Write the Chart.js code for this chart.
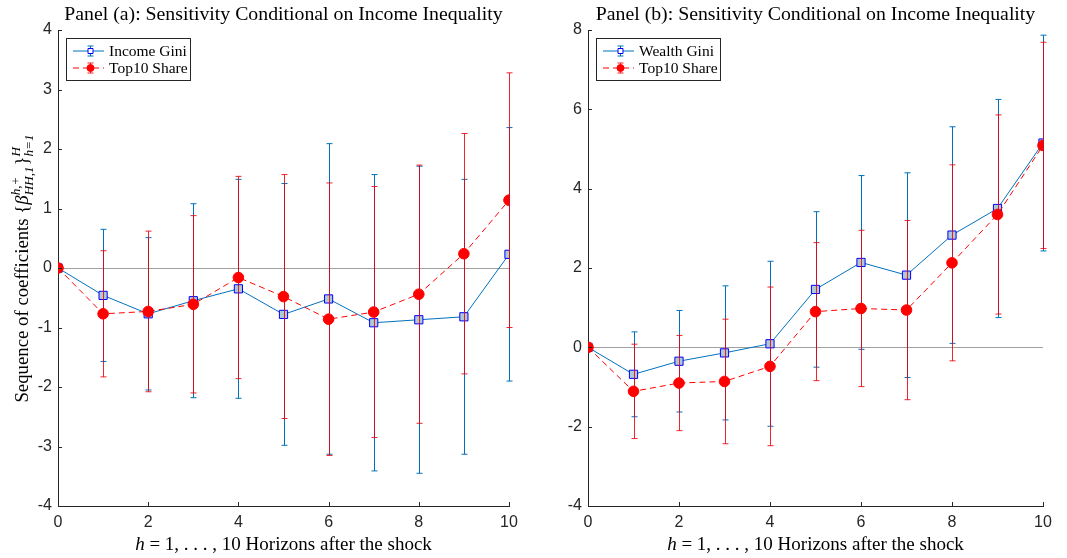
<!DOCTYPE html>
<html>
<head>
<meta charset="utf-8">
<script src="https://cdn.jsdelivr.net/npm/chart.js@4.4.1/dist/chart.umd.min.js"></script>
<style>
  body { margin: 0; background: #fff; }
  .panel { position: absolute; top: 0; height: 558px; }
</style>
</head>
<body>
<div class="panel" style="left:0;width:530px"><canvas id="chartA" width="530" height="558"></canvas></div>
<div class="panel" style="left:530px;width:537px"><canvas id="chartB" width="537" height="558"></canvas></div>
<script>
// horizons and point estimates with +/- error half-widths
const horizons = [0, 1, 2, 3, 4, 5, 6, 7, 8, 9, 10];

const incomeGini    = [0, -0.46, -0.77, -0.55, -0.35, -0.78, -0.52, -0.92, -0.87, -0.82, 0.23];
const incomeGiniErr = [0, 1.11, 1.28, 1.63, 1.84, 2.20, 2.61, 2.49, 2.58, 2.31, 2.13];
const top10A        = [0, -0.77, -0.73, -0.61, -0.16, -0.48, -0.86, -0.74, -0.44, 0.24, 1.14];
const top10AErr     = [0, 1.06, 1.35, 1.49, 1.70, 2.05, 2.29, 2.11, 2.17, 2.02, 2.14];

const wealthGini    = [0, -0.68, -0.35, -0.14, 0.09, 1.46, 2.14, 1.82, 2.83, 3.50, 5.15];
const wealthGiniErr = [0, 1.07, 1.28, 1.69, 2.08, 1.96, 2.19, 2.58, 2.73, 2.75, 2.72];
const top10B        = [0, -1.11, -0.90, -0.86, -0.48, 0.90, 0.98, 0.94, 2.13, 3.35, 5.09];
const top10BErr     = [0, 1.19, 1.20, 1.57, 2.00, 1.74, 1.97, 2.26, 2.47, 2.51, 2.60];

const SERIF = '"Liberation Serif", "DejaVu Serif", serif';
const SANS = '"Liberation Sans", Arial, sans-serif';
const BLUE = '#0072BD';
const RED = '#FF0000';

// draws a run of text pieces; scripts = stacked super/subscript
function mathWidth(ctx, parts, size) {
  let w = 0;
  parts.forEach((p) => {
    if (p.t !== undefined) {
      ctx.font = `${p.it ? 'italic ' : ''}${size}px ${SERIF}`;
      w += ctx.measureText(p.t).width;
    } else {
      ctx.font = `italic ${size * 0.7}px ${SERIF}`;
      w += Math.max(ctx.measureText(p.sup || '').width, ctx.measureText(p.sub || '').width) + 1;
    }
  });
  return w;
}

function drawMath(ctx, parts, cx, y, size) {
  let x = cx - mathWidth(ctx, parts, size) / 2;
  ctx.textAlign = 'left';
  ctx.textBaseline = 'alphabetic';
  parts.forEach((p) => {
    if (p.t !== undefined) {
      ctx.font = `${p.it ? 'italic ' : ''}${size}px ${SERIF}`;
      ctx.fillText(p.t, x, y);
      x += ctx.measureText(p.t).width;
    } else {
      ctx.font = `italic ${size * 0.7}px ${SERIF}`;
      if (p.sup) ctx.fillText(p.sup, x, y - size * 0.42);
      if (p.sub) ctx.fillText(p.sub, x, y + size * 0.28);
      x += Math.max(ctx.measureText(p.sup || '').width, ctx.measureText(p.sub || '').width) + 1;
    }
  });
}

function drawMarker(ctx, style, x, y, r) {
  ctx.beginPath();
  if (style === 'rect') ctx.rect(x - r, y - r, 2 * r, 2 * r);
  else ctx.arc(x, y, r, 0, Math.PI * 2);
}

const panelPlugin = {
  id: 'panel',
  beforeDatasetsDraw(chart) {
    const { ctx, chartArea: a, scales: { y } } = chart;
    const y0 = Math.round(y.getPixelForValue(0)) + 0.5;
    ctx.save();
    ctx.strokeStyle = '#a0a0a0';
    ctx.lineWidth = 1.2;
    ctx.beginPath();
    ctx.moveTo(a.left, y0);
    ctx.lineTo(a.right, y0);
    ctx.stroke();
    ctx.restore();
  },
  beforeDatasetDraw(chart, args) {
    const ds = chart.data.datasets[args.index];
    const { ctx, scales: { x, y } } = chart;
    ctx.save();
    ctx.strokeStyle = ds.barColor;
    ctx.lineWidth = 1;
    ds.data.forEach((p, i) => {
      const e = ds.errors[i];
      if (!e) return;
      const px = Math.round(x.getPixelForValue(p.x)) + 0.5;
      const top = y.getPixelForValue(p.y + e);
      const bot = y.getPixelForValue(p.y - e);
      ctx.beginPath();
      ctx.moveTo(px, top); ctx.lineTo(px, bot);
      ctx.moveTo(px - 3, top); ctx.lineTo(px + 3, top);
      ctx.moveTo(px - 3, bot); ctx.lineTo(px + 3, bot);
      ctx.stroke();
    });
    ctx.restore();
  },
  afterDraw(chart, args, opts) {
    const { ctx, chartArea: a, scales: { x, y } } = chart;
    const cx = (a.left + a.right) / 2;
    ctx.save();
    // inward tick marks
    ctx.strokeStyle = '#262626';
    ctx.lineWidth = 1;
    ctx.beginPath();
    x.ticks.forEach((t) => {
      const px = Math.round(x.getPixelForValue(t.value)) + 0.5;
      ctx.moveTo(px, a.bottom); ctx.lineTo(px, a.bottom - 4);
    });
    y.ticks.forEach((t) => {
      const py = Math.round(y.getPixelForValue(t.value)) + 0.5;
      ctx.moveTo(a.left, py); ctx.lineTo(a.left + 4, py);
    });
    ctx.stroke();

    // title
    ctx.fillStyle = '#000';
    ctx.font = `19.8px ${SERIF}`;
    ctx.textAlign = 'center';
    ctx.textBaseline = 'alphabetic';
    ctx.fillText(opts.title, cx, 20);

    // x axis label
    drawMath(ctx, [{ t: 'h', it: true }, { t: ' = 1, . . . , 10 Horizons after the shock' }], cx, 550, 19);

    // y axis label
    if (opts.yLabel) {
      ctx.save();
      ctx.translate(28, (a.top + a.bottom) / 2);
      ctx.rotate(-Math.PI / 2);
      drawMath(ctx, [
        { t: 'Sequence of coefficients {' },
        { t: 'β', it: true },
        { sup: 'h,+', sub: 'HH,1' },
        { t: '}' },
        { sup: 'H', sub: 'h=1' }
      ], 0, 0, 18.8);
      ctx.restore();
    }

    // legend box
    const lx = a.left + 8, ly = a.top + 8, lw = 124, lh = 42;
    ctx.fillStyle = '#fff';
    ctx.fillRect(lx, ly, lw, lh);
    ctx.strokeStyle = '#262626';
    ctx.lineWidth = 1;
    ctx.strokeRect(lx + 0.5, ly + 0.5, lw, lh);
    chart.data.datasets.forEach((ds, i) => {
      const ry = ly + 13 + i * 17;
      const mx = lx + 24;
      ctx.strokeStyle = ds.borderColor;
      ctx.setLineDash(ds.borderDash || []);
      ctx.beginPath();
      ctx.moveTo(lx + 7, ry); ctx.lineTo(lx + 38, ry);
      ctx.stroke();
      ctx.setLineDash([]);
      ctx.strokeStyle = ds.barColor;
      ctx.beginPath();
      ctx.moveTo(mx + 0.5, ry - 5); ctx.lineTo(mx + 0.5, ry + 5);
      ctx.moveTo(mx - 2.5, ry - 5); ctx.lineTo(mx + 3.5, ry - 5);
      ctx.moveTo(mx - 2.5, ry + 5); ctx.lineTo(mx + 3.5, ry + 5);
      ctx.stroke();
      drawMarker(ctx, ds.pointStyle, mx + 0.5, ry, ds.pointStyle === 'rect' ? 2.5 : 3.5);
      ctx.fillStyle = ds.pointStyle === 'rect' ? '#fff' : RED;
      ctx.fill();
      ctx.strokeStyle = ds.pointBorderColor;
      ctx.stroke();
      ctx.fillStyle = '#000';
      ctx.font = `15.5px ${SERIF}`;
      ctx.textAlign = 'left';
      ctx.textBaseline = 'middle';
      ctx.fillText(ds.label, lx + 43, ry + 1);
    });
    ctx.restore();
  }
};

function makeChart(id, cfg) {
  const toPts = (vals) => horizons.map((h, i) => ({ x: h, y: vals[i] }));
  const tickFont = { family: SANS, size: 16 };
  return new Chart(document.getElementById(id), {
    type: 'line',
    data: {
      datasets: [
        {
          label: cfg.giniLabel, data: toPts(cfg.gini), errors: cfg.giniErr, barColor: BLUE, order: 2,
          borderColor: BLUE, borderWidth: 1, tension: 0,
          pointStyle: 'rect', pointRadius: 5.8, pointBackgroundColor: '#AFC8D4',
          pointBorderColor: '#0000FF', pointBorderWidth: 1
        },
        {
          label: 'Top10 Share', data: toPts(cfg.top), errors: cfg.topErr, barColor: 'rgba(235,0,10,0.85)', order: 1,
          borderColor: RED, borderWidth: 1, borderDash: [6, 4], tension: 0,
          pointStyle: 'circle', pointRadius: 5.3, pointBackgroundColor: RED,
          pointBorderColor: RED, pointBorderWidth: 1
        }
      ]
    },
    options: {
      responsive: false,
      animation: false,
      events: [],
      layout: { padding: { top: 30, right: cfg.padRight, left: 0, bottom: 0 } },
      plugins: {
        legend: { display: false },
        tooltip: { enabled: false },
        panel: { title: cfg.title, yLabel: cfg.yLabel }
      },
      scales: {
        x: {
          type: 'linear', min: 0, max: 10,
          ticks: { stepSize: 2, padding: 7, font: tickFont, color: '#262626' },
          grid: { display: false, drawTicks: false },
          border: { color: '#262626', width: 1 },
          afterFit: (s) => { s.height = 52; }
        },
        y: {
          min: cfg.yMin, max: cfg.yMax,
          ticks: { stepSize: cfg.yStep, padding: 6, font: tickFont, color: '#262626' },
          grid: { display: false, drawTicks: false },
          border: { color: '#262626', width: 1 },
          afterFit: (s) => { s.width = 58; }
        }
      }
    },
    plugins: [panelPlugin]
  });
}

makeChart('chartA', {
  title: 'Panel (a): Sensitivity Conditional on Income Inequality',
  giniLabel: 'Income Gini', gini: incomeGini, giniErr: incomeGiniErr,
  top: top10A, topErr: top10AErr,
  yMin: -4, yMax: 4, yStep: 1, padRight: 21, yLabel: true
});

makeChart('chartB', {
  title: 'Panel (b): Sensitivity Conditional on Income Inequality',
  giniLabel: 'Wealth Gini', gini: wealthGini, giniErr: wealthGiniErr,
  top: top10B, topErr: top10BErr,
  yMin: -4, yMax: 8, yStep: 2, padRight: 24, yLabel: false
});
</script>
</body>
</html>
